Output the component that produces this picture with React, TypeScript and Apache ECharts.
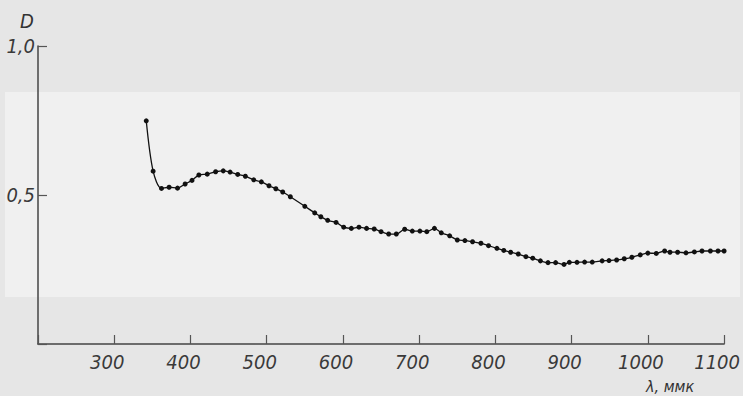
import React, { useEffect, useRef } from "react";
import * as echarts from "echarts";

const wavelengths = [342, 351, 362, 372, 383, 393, 402, 411, 422, 433, 443, 452, 462, 472, 483, 493, 503, 512, 521, 531, 550, 563, 571, 580, 591, 601, 611, 621, 631, 641, 650, 660, 670, 681, 691, 701, 710, 720, 729, 740, 750, 760, 770, 781, 791, 802, 811, 820, 830, 840, 849, 859, 869, 879, 890, 897, 907, 917, 927, 940, 949, 959, 969, 979, 990, 1000, 1011, 1022, 1029, 1039, 1050, 1061, 1071, 1082, 1092, 1100];
const densities = [0.749, 0.58, 0.522, 0.526, 0.523, 0.537, 0.549, 0.567, 0.57, 0.578, 0.581, 0.577, 0.569, 0.563, 0.551, 0.544, 0.531, 0.521, 0.51, 0.494, 0.462, 0.44, 0.427, 0.415, 0.408, 0.392, 0.388, 0.392, 0.388, 0.386, 0.377, 0.369, 0.369, 0.385, 0.379, 0.379, 0.377, 0.388, 0.373, 0.363, 0.349, 0.347, 0.343, 0.338, 0.33, 0.321, 0.314, 0.308, 0.302, 0.293, 0.288, 0.279, 0.273, 0.273, 0.267, 0.274, 0.274, 0.275, 0.275, 0.279, 0.28, 0.282, 0.286, 0.291, 0.299, 0.305, 0.304, 0.312, 0.308, 0.308, 0.306, 0.309, 0.312, 0.312, 0.312, 0.312];
const xTickLabels = ["300", "400", "500", "600", "700", "800", "900", "1000", "1100"];
const yTickLabels = ["0,5", "1,0"];

const FONT = "'DejaVu Sans Condensed', 'DejaVu Sans', sans-serif";

export default function App() {
  const ref = useRef<HTMLDivElement>(null);
  useEffect(() => {
    if (!ref.current) return;
    const chart = echarts.init(ref.current, undefined, { renderer: "svg" });
    const data = wavelengths.map((w, i) => [w, densities[i]]);
    chart.setOption({
      animation: false,
      backgroundColor: "#e6e6e6",
      grid: { left: 38, right: 14, top: 46, bottom: 52, containLabel: false },
      graphic: [
        { type: "rect", z: -10, silent: true, shape: { x: 5, y: 92, width: 735, height: 205 }, style: { fill: "#f0f0f0" } },
        { type: "text", left: 20, top: 11, style: { text: "D", font: `italic 20px ${FONT}`, fill: "#333" } },
        { type: "text", left: 646, top: 378, style: { text: "λ, ммк", font: `italic 16px ${FONT}`, fill: "#333" } },
      ],
      xAxis: {
        type: "value",
        min: 200,
        max: 1100,
        interval: 100,
        splitLine: { show: false },
        axisLine: { lineStyle: { color: "#444", width: 1.5 } },
        axisTick: { inside: true, length: 9, lineStyle: { color: "#555", width: 1.2 } },
        axisLabel: {
          margin: 8,
          padding: [0, 14, 0, 0],
          fontSize: 20,
          fontStyle: "italic",
          fontFamily: FONT,
          color: "#3a3a3a",
          formatter: (v: number) => {
            const s = String(v);
            return xTickLabels.includes(s) ? s : "";
          },
        },
      },
      yAxis: {
        type: "value",
        min: 0,
        max: 1,
        interval: 0.5,
        splitLine: { show: false },
        axisLine: { lineStyle: { color: "#444", width: 1.5 } },
        axisTick: { inside: true, length: 9, lineStyle: { color: "#555", width: 1.2 } },
        axisLabel: {
          margin: 3,
          fontSize: 20,
          fontStyle: "italic",
          fontFamily: FONT,
          color: "#3a3a3a",
          formatter: (v: number) => {
            const s = v.toFixed(1).replace(".", ",");
            return yTickLabels.includes(s) ? s : "";
          },
        },
      },
      series: [
        {
          type: "line",
          data,
          smooth: 0.3,
          clip: false,
          symbol: "circle",
          symbolSize: 5,
          itemStyle: { color: "#111" },
          lineStyle: { color: "#111", width: 1.3 },
        },
      ],
    });
    return () => chart.dispose();
  }, []);
  return <div ref={ref} style={{ position: "fixed", left: 0, top: 0, width: 743, height: 396 }} />;
}
